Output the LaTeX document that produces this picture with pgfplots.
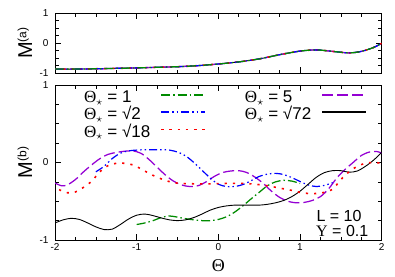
\documentclass[border=0pt]{standalone}
\usepackage{pgfplots}
\pgfplotsset{compat=1.18}
\usepackage{fontspec}
\setmainfont{Liberation Sans}
\newfontfamily\grk{Liberation Serif}
\definecolor{cgreen}{RGB}{0,139,0}
\definecolor{cblue}{RGB}{0,0,255}
\definecolor{cred}{RGB}{255,0,0}
\definecolor{cviolet}{RGB}{148,0,211}
\tikzset{
  sgreen/.style={draw=cgreen,line width=1.25pt,dash pattern=on 9pt off 3pt on 1.5pt off 3pt},
  sblue/.style={draw=cblue,line width=1.2pt,dash pattern=on 8pt off 3pt on 1.5pt off 3pt on 1.5pt off 3pt},
  sred/.style={draw=cred,line width=1.6pt,dash pattern=on 2.2pt off 6pt},
  sviolet/.style={draw=cviolet,line width=1.25pt,dash pattern=on 11pt off 4pt},
  sblack/.style={draw=black,line width=0.9pt},
}
\pgfplotsset{
  myaxis/.style={
    scale only axis, width=326.7pt, xmin=-2, xmax=2, ymin=-1, ymax=1,
    xtick={-2,-1,0,1,2}, minor x tick num=3,
    ytick={-1,0,1}, minor y tick num=3,
    yticklabels={-1,0,1},
    tick align=inside, major tick length=6pt, minor tick length=3.5pt,
    axis line style={line width=1pt}, every tick/.style={black,line width=0.6pt},
    ticklabel style={font=\fontsize{10}{10}\selectfont},
    yticklabel style={xshift=-3pt},
    ylabel style={at={(axis description cs:-0.092,0.5)},anchor=center,font=\fontsize{20}{20}\selectfont},
  }
}
\pgfplotstableread{
x y
-2.0 -0.86
-1.75 -0.86
-1.5 -0.85
-1.25 -0.835
-1.0 -0.82
-0.75 -0.80
-0.5 -0.78
-0.25 -0.745
0.0 -0.69
0.25 -0.62
0.5 -0.52
0.75 -0.38
1.0 -0.26
1.2 -0.22
1.4 -0.27
1.6 -0.32
1.75 -0.27
1.9 -0.14
2.0 0.0
}\topdata
\pgfplotstableread{
x y
-1.0 -0.80
-0.9 -0.78
-0.8 -0.75
-0.7 -0.71
-0.6 -0.69
-0.5 -0.705
-0.4 -0.725
-0.3 -0.74
-0.2 -0.75
-0.1 -0.75
0.0 -0.735
0.1 -0.70
0.2 -0.64
0.3 -0.56
0.4 -0.47
0.5 -0.385
0.6 -0.30
0.7 -0.25
0.8 -0.23
0.9 -0.24
1.0 -0.27
}\greendata
\pgfplotstableread{
x y
-1.5 -0.12
-1.4 -0.05
-1.3 0.05
-1.2 0.12
-1.1 0.15
-1.0 0.16
-0.9 0.165
-0.8 0.165
-0.7 0.165
-0.6 0.16
-0.5 0.135
-0.4 0.085
-0.3 0.0
-0.2 -0.10
-0.1 -0.20
0.0 -0.28
0.1 -0.31
0.2 -0.31
0.3 -0.285
0.4 -0.235
0.5 -0.18
0.6 -0.15
0.7 -0.14
0.8 -0.155
0.9 -0.195
1.0 -0.245
1.1 -0.29
1.2 -0.31
1.3 -0.295
1.4 -0.26
}\bluedata
\pgfplotstableread{
x y
-1.95 -0.35
-1.85 -0.39
-1.75 -0.38
-1.65 -0.32
-1.55 -0.24
-1.45 -0.12
-1.35 -0.04
-1.25 -0.01
-1.15 -0.01
-1.05 -0.03
-0.95 -0.08
-0.85 -0.14
-0.75 -0.19
-0.65 -0.23
-0.55 -0.26
-0.45 -0.27
-0.3 -0.275
-0.1 -0.275
0.1 -0.27
0.3 -0.27
0.45 -0.28
0.6 -0.30
0.75 -0.33
0.9 -0.36
1.0 -0.385
1.1 -0.40
1.2 -0.40
1.3 -0.385
1.4 -0.345
1.5 -0.22
1.6 -0.12
1.7 -0.05
1.8 -0.01
1.9 0.0
2.0 -0.01
}\reddata
\pgfplotstableread{
x y
-2.0 -0.265
-1.92 -0.30
-1.85 -0.29
-1.75 -0.22
-1.65 -0.12
-1.55 -0.03
-1.45 0.05
-1.35 0.105
-1.25 0.13
-1.15 0.145
-1.05 0.15
-0.95 0.12
-0.85 0.04
-0.75 -0.06
-0.65 -0.16
-0.55 -0.24
-0.45 -0.29
-0.35 -0.31
-0.25 -0.30
-0.15 -0.25
-0.05 -0.18
0.05 -0.13
0.15 -0.11
0.25 -0.105
0.35 -0.13
0.45 -0.19
0.55 -0.27
0.65 -0.37
0.75 -0.45
0.85 -0.50
0.95 -0.52
1.05 -0.515
1.15 -0.49
1.25 -0.44
1.35 -0.34
1.45 -0.20
1.55 -0.09
1.65 0.0
1.75 0.09
1.85 0.135
1.95 0.14
2.0 0.12
}\violetdata
\pgfplotstableread{
x y
-2.0 -0.78
-1.9 -0.74
-1.8 -0.72
-1.7 -0.735
-1.6 -0.78
-1.5 -0.83
-1.4 -0.865
-1.3 -0.86
-1.2 -0.80
-1.1 -0.73
-1.0 -0.68
-0.9 -0.665
-0.8 -0.685
-0.7 -0.715
-0.6 -0.74
-0.5 -0.75
-0.4 -0.74
-0.3 -0.71
-0.2 -0.665
-0.1 -0.615
0.0 -0.58
0.1 -0.56
0.2 -0.55
0.3 -0.55
0.4 -0.55
0.5 -0.55
0.6 -0.54
0.7 -0.52
0.8 -0.49
0.9 -0.44
1.0 -0.37
1.1 -0.28
1.2 -0.19
1.3 -0.13
1.4 -0.105
1.5 -0.105
1.6 -0.125
1.7 -0.11
1.8 -0.05
1.9 0.03
2.0 0.13
}\blackdata
\begin{document}
\begin{tikzpicture}[x=1pt,y=1pt]
\useasboundingbox (0,0) rectangle (395,276);
% top panel
\begin{axis}[myaxis, at={(55pt,202.7pt)}, anchor=south west, height=60pt,
  xticklabels={},
  ylabel={M\raisebox{0.55ex}{\fontsize{12}{12}\selectfont(a)}}]
\addplot[sblack, smooth] table {\topdata};
\addplot[sviolet, smooth] table {\topdata};
\addplot[sred, smooth] table {\topdata};
\addplot[sblue, smooth] table {\topdata};
\addplot[sgreen, smooth] table {\topdata};
\end{axis}
% bottom panel
\begin{axis}[myaxis, at={(55pt,36pt)}, anchor=south west, height=155pt,
  xticklabels={-2,-1,0,1,2},
  ylabel={M\raisebox{0.55ex}{\fontsize{12}{12}\selectfont(b)}},
  xlabel={\grk Θ},
  xlabel style={at={(axis description cs:0.5,-0.168)},anchor=center,font=\fontsize{18}{18}\selectfont},
  legend columns=2, legend plot pos=right, legend cell align=left,
  legend image code/.code={\draw[#1, line width=1.7pt] (0pt,0.33em) -- (44pt,0.33em);},
  legend style={draw=none, fill=none, at={(axis cs:-1.657,0.94)}, anchor=north west,
    inner sep=0pt, outer sep=0pt, font=\fontsize{17}{17}\selectfont,
    column sep=9pt, row sep=0pt,
    nodes={inner sep=1pt, text height=12pt, text depth=3.3pt},
    /tikz/every even column/.append style={column sep=38pt}},
]
\addplot[sgreen, smooth] table {\greendata};
\addlegendentry{{\grk Θ}$_\star$ = 1}
\addplot[sviolet, smooth] table {\violetdata};
\addlegendentry{{\grk Θ}$_\star$ = 5}
\addplot[sblue, smooth] table {\bluedata};
\addlegendentry{{\grk Θ}$_\star$ = √2}
\addplot[sblack, smooth] table {\blackdata};
\addlegendentry{{\grk Θ}$_\star$ = √72}
\addplot[sred, smooth, legend image post style={draw=cred, color=cred, line width=2.3pt, dash pattern=on 2.6pt off 5.6pt}] table {\reddata};
\addlegendentry{{\grk Θ}$_\star$ = √18}
\node[anchor=base west, inner sep=0pt, font=\fontsize{16}{16}\selectfont] at (axis cs:1.2,-0.761) {L = 10};
\node[anchor=base west, inner sep=0pt, font=\fontsize{16}{16}\selectfont] at (axis cs:1.196,-0.955) {{\grk Υ} = 0.1};
\end{axis}
\end{tikzpicture}
\end{document}
